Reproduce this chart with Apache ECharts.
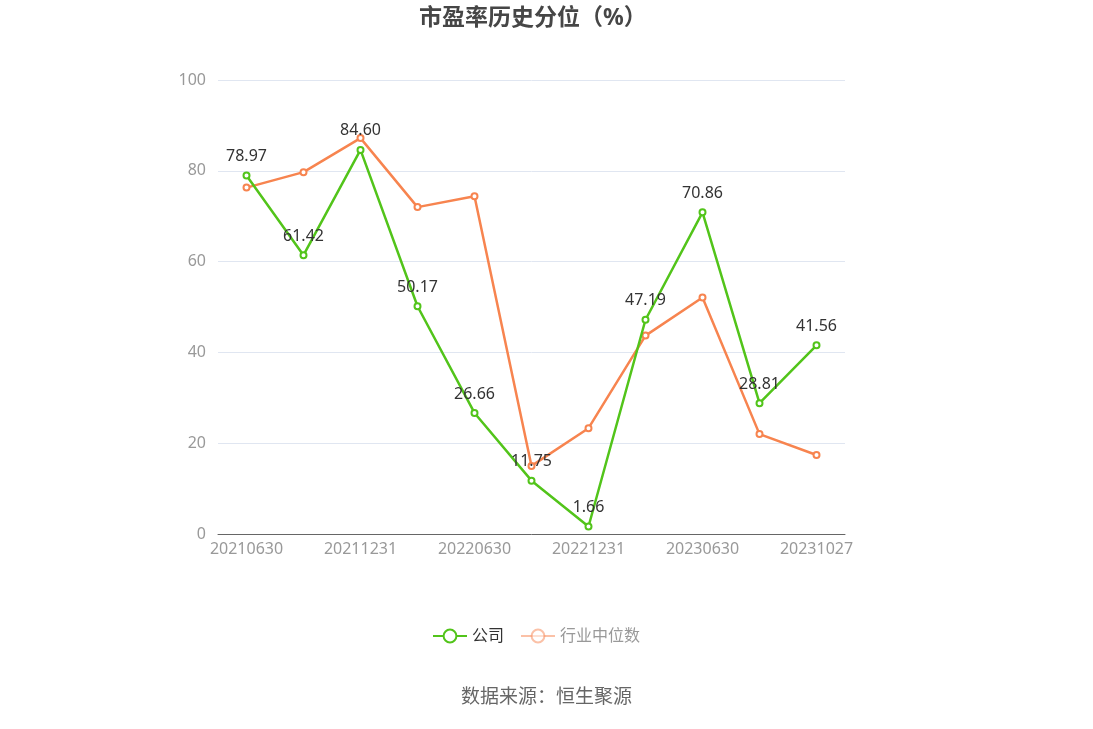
<!DOCTYPE html>
<html>
<head>
<meta charset="utf-8">
<title>市盈率历史分位</title>
<script src="https://cdn.jsdelivr.net/npm/echarts@6/dist/echarts.min.js"></script>
<style>
  html, body { margin: 0; padding: 0; background: #fff; }
  #main { width: 1093px; height: 729px; }
</style>
</head>
<body>
<div id="main"></div>
<script>
// 报告期
var dates = ['20210630', '20210930', '20211231', '20220331', '20220630', '20220930',
             '20221231', '20230331', '20230630', '20230930', '20231027'];
// 公司市盈率分位
var companyValues = [78.97, 61.42, 84.60, 50.17, 26.66, 11.75, 1.66, 47.19, 70.86, 28.81, 41.56];
// 行业中位数
var industryValues = [76.3, 79.7, 87.2, 72.0, 74.4, 15.0, 23.3, 43.7, 52.1, 22.0, 17.4];
var yTicks = [0, 20, 40, 60, 80, 100];

var green = '#52C41A', orange = '#F7844F';
var font = '"Noto Sans", "Noto Sans CJK SC", sans-serif';

var chart = echarts.init(document.getElementById('main'));
chart.setOption({
    animation: false,
    textStyle: { fontFamily: font },
    title: {
        text: '市盈率历史分位（%）',
        left: 414,
        top: 2,
        textStyle: { fontSize: 23, fontWeight: 'bold', color: '#464646', fontFamily: font }
    },
    legend: {
        bottom: 80,
        left: 427,
        itemWidth: 34,
        itemHeight: 16,
        itemGap: 16,
        textStyle: { fontSize: 16, color: '#333' },
        data: [
            { name: '公司' },
            { name: '行业中位数', itemStyle: { opacity: 0.5 }, lineStyle: { opacity: 0.5 },
              textStyle: { color: '#999' } }
        ]
    },
    graphic: [{
        type: 'text',
        left: 'center',
        top: 688,
        style: { text: '数据来源：恒生聚源', fontSize: 19, fill: '#666', fontFamily: font }
    }],
    grid: { left: 218, right: 248, top: 80, bottom: 195 },
    xAxis: {
        type: 'category',
        data: dates,
        boundaryGap: true,
        axisLine: { lineStyle: { color: '#666' } },
        axisTick: { alignWithLabel: true, interval: 1, lineStyle: { color: '#666' } },
        axisLabel: { interval: 1, color: '#999', fontSize: 16, margin: 7 }
    },
    yAxis: {
        type: 'value',
        min: yTicks[0],
        max: yTicks[yTicks.length - 1],
        interval: 20,
        axisLine: { show: false },
        axisTick: { show: false },
        axisLabel: { color: '#999', fontSize: 16, margin: 12 },
        splitLine: { lineStyle: { color: '#E0E6F1' } }
    },
    series: [
        {
            name: '公司',
            type: 'line',
            data: companyValues,
            symbol: 'emptyCircle',
            symbolSize: 6,
            z: 3,
            itemStyle: { color: green, borderWidth: 2 },
            lineStyle: { width: 2.5, color: green },
            label: {
                show: true,
                position: 'top',
                distance: 7,
                fontSize: 16,
                color: '#333',
                formatter: function (p) { return p.value.toFixed(2); }
            }
        },
        {
            name: '行业中位数',
            type: 'line',
            data: industryValues,
            symbol: 'emptyCircle',
            symbolSize: 6,
            z: 2,
            itemStyle: { color: orange, borderWidth: 2 },
            lineStyle: { width: 2.5, color: orange }
        }
    ]
});
</script>
</body>
</html>
